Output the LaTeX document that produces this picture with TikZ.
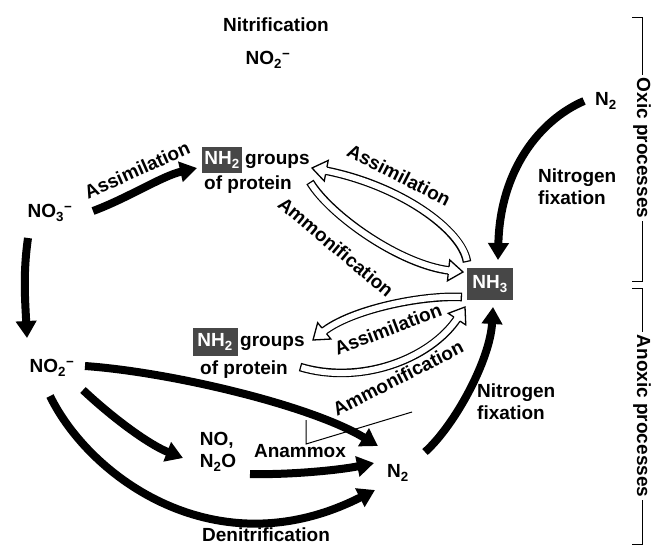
\documentclass[tikz,border=0pt]{standalone}
\usepackage{fontspec}
\setmainfont{Liberation Sans}
\usetikzlibrary{arrows.meta,calc,decorations.markings}
\newcommand{\subt}[1]{\textsubscript{#1}}
\newcommand{\mn}{\textsuperscript{−}}
\begin{document}
\begin{tikzpicture}[x=1pt,y=-1pt,
  every node/.style={font=\fontsize{19}{22}\selectfont\bfseries, inner sep=1pt},
  nhbox/.style={fill=black!72, text=white, inner sep=0pt},
  thk/.style={line width=8pt, -{Triangle[length=17pt,width=20pt]}},
  hollow/.style={
    preaction={draw=black, line width=8.6pt, shorten >=13pt},
    preaction={draw=white, line width=6pt, shorten >=12pt, shorten <=1.3pt},
    postaction={decorate, decoration={markings,
      mark=at position 1 with {\filldraw[fill=white, draw=black, line width=1.3pt, line join=miter]
        (-14.5pt,3.65pt) -- (-14.5pt,10.5pt) -- (0,0) -- (-14.5pt,-10.5pt) -- (-14.5pt,-3.65pt);}}}},
  brk/.style={line width=1pt},
  lbl/.style={inner sep=0pt}
]
\useasboundingbox (0,0) rectangle (661,547);

% nodes
\node (nitr) at (276,25) {Nitrification};
\node (no2t) at (268,60) {NO\subt{2}\mn};
\node (no3) at (50,213) {NO\subt{3}\mn};
\node (no2) at (52,368) {NO\subt{2}\mn};
\node[nhbox, minimum width=40pt, minimum height=26pt] (nh2a) at (222,160) {NH\subt{2}};
\node[anchor=west] (grpa) at (244,161) {groups};
\node (prota) at (248,185) {of protein};
\node[nhbox, minimum width=46pt, minimum height=32pt] (nh3) at (490,284) {NH\subt{3}};
\node (n2t) at (606,101) {N\subt{2}};
\node[align=left, anchor=west] (fixt) at (537,187) {Nitrogen\\fixation};
\node[nhbox, minimum width=45pt, minimum height=28pt] (nh2b) at (215,342) {NH\subt{2}};
\node[anchor=west] (grpb) at (239,343) {groups};
\node (protb) at (244,370) {of protein};
\node[align=left] (nox) at (218,452) {NO,\\N\subt{2}O};
\node (anam) at (300,451) {Anammox};
\node (n2b) at (398,473) {N\subt{2}};
\node[align=left, anchor=west] (fixb) at (476,402) {Nitrogen\\fixation};
\node[inner sep=0pt] (denit) at (266,535) {Denitrification};

% bracket labels
\draw[brk] (632,17) -- (642,17) -- (642,281) -- (632,281);
\draw[brk] (632,288) -- (642,288) -- (642,544) -- (632,544);
\node[rotate=-90, fill=white, inner sep=3pt] (oxic) at (642,148) {Oxic processes};
\node[rotate=-90, fill=white, inner sep=3pt] (anox) at (642,416) {Anoxic processes};

% black arrows
\draw[thk] ($(no3)+(43,-2)$) .. controls +(35,-13) and +(-35,8) .. ($(nh2a)+(-25,8)$);
\draw[thk] ($(no3)+(-22,25)$) .. controls +(-5,35) and +(-2,-40) .. ($(no2)+(-25,-30)$);
\draw[thk] ($(no2)+(33,-2)$) .. controls +(85,6) and +(-68,-41) .. ($(n2b)+(-20,-27)$);
\draw[thk] ($(no2)+(31,22)$) .. controls +(32,30) and +(-33,-13) .. ($(nox)+(-35,6)$);
\draw[thk] ($(nox)+(32,22)$) .. controls +(40,1) and +(-34,7) .. ($(n2b)+(-24,-10)$);
\draw[thk] ($(no2)+(-2,28)$) .. controls +(40,82) and +(-158,80) .. ($(n2b)+(-23,17)$);
\draw[thk] ($(n2b)+(27,-21)$) .. controls +(30,-27) and +(-3,53) .. ($(nh3)+(3,23)$);
\draw[thk] ($(n2t)+(-22,0)$) .. controls +(-44,19) and +(2,-90) .. ($(nh3)+(8,-24)$);

% hollow arrows
\path[hollow] ($(nh3)+(-23,-22)$) .. controls +(-5,-32) and +(88,17) .. ($(nh2a)+(90,8)$);
\path[hollow] ($(prota)+(62,-3)$) .. controls +(20,33) and +(-63,-7) .. ($(nh3)+(-27,-12)$);
\path[hollow] ($(nh3)+(-28,13)$) .. controls +(-42,-2) and +(37,-30) .. ($(nh2b)+(98,-2)$);
\path[hollow] ($(nh2b)+(85,25)$) .. controls +(60,18) and +(-35,53) .. ($(nh3)+(-25,23)$);

% arrow labels
\node[lbl, rotate=24] (la1) at (137,170) {Assimilation};
\node[lbl, rotate=-27] (la2) at (399,175) {Assimilation};
\node[lbl, rotate=-40] (lm1) at (336,247) {Ammonification};
\node[lbl, rotate=21] (la3) at (388,329) {Assimilation};
\node[lbl, rotate=27] (lm2) at (398,378) {Ammonification};

% anammox pointer
\draw[line width=1pt] ($(anam)+(6,-31)$) -- ($(anam)+(6,-7)$) -- ($(anam)+(112,-39)$);
\end{tikzpicture}
\end{document}
